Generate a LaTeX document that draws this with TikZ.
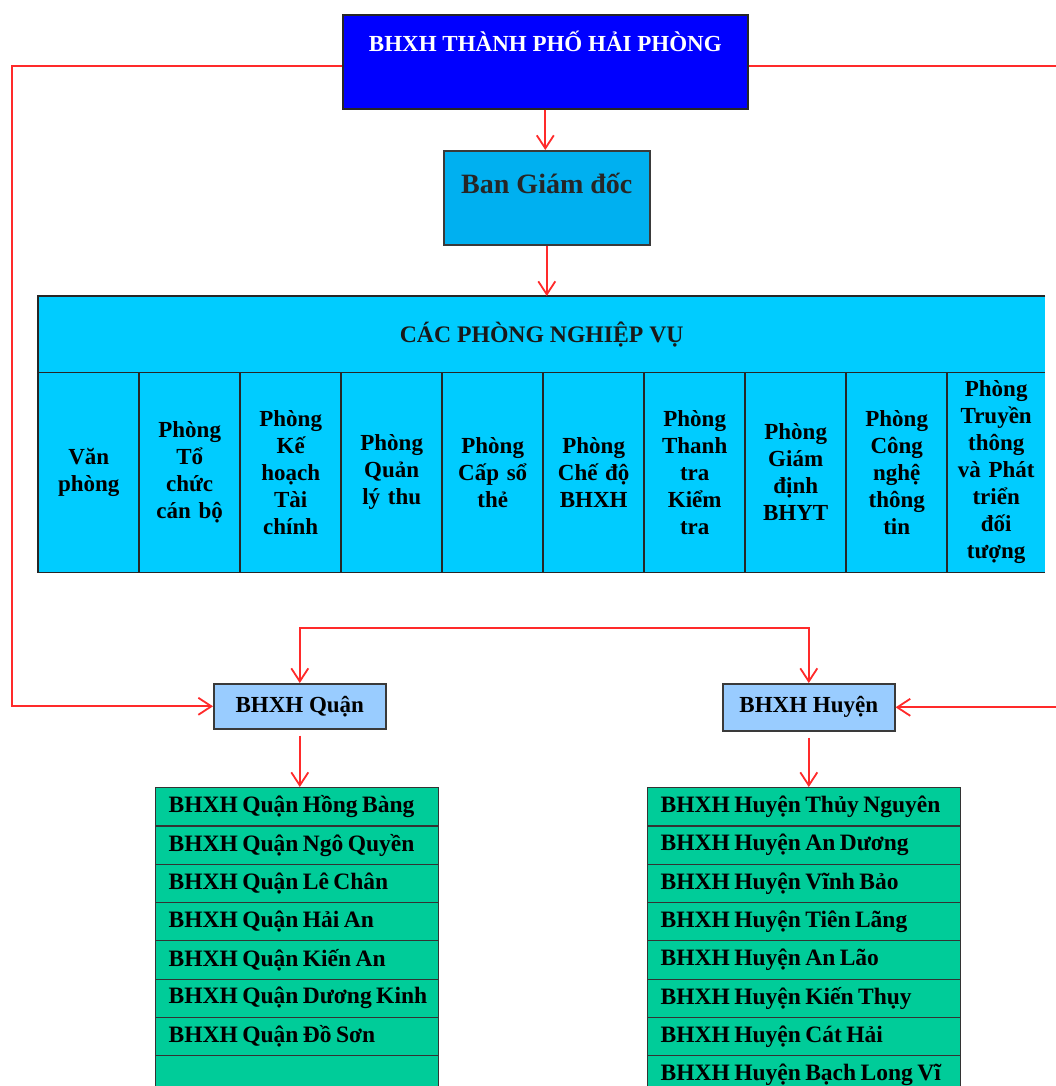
\documentclass[tikz,border=0pt]{standalone}
\usepackage{fontspec}
\setmainfont{Liberation Serif}
\usetikzlibrary{arrows.meta}
\definecolor{topblue}{HTML}{0000FF}
\definecolor{bgdblue}{HTML}{00B0F0}
\definecolor{tblcyan}{HTML}{00CCFF}
\definecolor{unitblue}{HTML}{99CCFF}
\definecolor{listgreen}{HTML}{00CC99}
\definecolor{conred}{HTML}{FF2A2A}
\definecolor{edgegray}{HTML}{3A3A3A}
\newcommand\myrowfont{\fontsize{23.5}{26}\selectfont\bfseries\spaceskip=0.19em\relax}
\tikzset{
  conn/.style={draw=conred, line width=1.8pt},
  arr/.style={conn, -{Straight Barb[length=13pt,width=17pt,line width=1.8pt]}},
  bigbox/.style={rectangle, inner sep=0pt, anchor=north west, line width=1.6pt},
  colcell/.style={rectangle, fill=tblcyan, inner sep=0pt, anchor=north west,
    minimum width=101pt, minimum height=200pt, text width=99pt, align=center,
    font=\fontsize{23}{27}\selectfont\bfseries},
  unitbox/.style={rectangle, fill=unitblue, draw=edgegray, line width=1.6pt,
    inner sep=0pt, anchor=north west, font=\fontsize{23}{26}\selectfont\bfseries},
  rowcell/.style={rectangle, fill=listgreen, draw=black!80, line width=1.2pt,
    inner sep=0pt, anchor=north west, minimum height=38.3pt, align=left},
}
\begin{document}
\begin{tikzpicture}[x=1pt,y=-1pt]
\useasboundingbox (0,0) rectangle (1056,1086);
\clip (0,0) rectangle (1056,1086);
\fill[white] (0,0) rectangle (1056,1086);

% top box
\node[bigbox, fill=topblue, draw=black!85, minimum width=405pt, minimum height=94pt,
  label={[anchor=north, yshift=-13pt, text=white, font=\fontsize{23}{26}\selectfont\bfseries]north:BHXH THÀNH PHỐ HẢI PHÒNG}]
  (top) at (342,14) {};

% Ban Giam doc
\node[bigbox, fill=bgdblue, draw=edgegray, minimum width=206pt, minimum height=94pt,
  label={[anchor=north, yshift=-20pt, text=black!85, font=\fontsize{28}{32}\selectfont\bfseries]north:Ban Giám đốc}]
  (bgd) at (443,150) {};

% table
\node[rectangle, fill=tblcyan, inner sep=0pt, anchor=north west, minimum width=1007pt,
  minimum height=76pt, font=\fontsize{23.7}{27}\selectfont\bfseries, text=black!90]
  (hdr) at (38,296) {CÁC PHÒNG NGHIỆP VỤ};
\node[colcell] (c1) at (38,372) {Văn\\phòng};
\node[colcell] (c2) at (139,372) {Phòng\\Tổ\\chức\\cán bộ};
\node[colcell] (c3) at (240,372) {Phòng\\Kế\\hoạch\\Tài\\chính};
\node[colcell] (c4) at (341,372) {Phòng\\Quản\\lý thu};
\node[colcell] (c5) at (442,372) {Phòng\\Cấp sổ\\thẻ};
\node[colcell] (c6) at (543,372) {Phòng\\Chế độ\\BHXH};
\node[colcell] (c7) at (644,372) {Phòng\\Thanh\\tra\\Kiểm\\tra};
\node[colcell] (c8) at (745,372) {Phòng\\Giám\\định\\BHYT};
\node[colcell] (c9) at (846,372) {Phòng\\Công\\nghệ\\thông\\tin};
\node[colcell, text width=96pt, minimum width=98pt] (c10) at (947,372) {Phòng\\Truyền\\thông\\và Phát\\triển\\đối\\tượng};
% table lines
\draw[black!85, line width=1.5pt] (hdr.north east) -- (hdr.north west) -- (c1.south west) -- (c10.south east);
\draw[black!85, line width=1.3pt] (hdr.south west) -- (hdr.south east);
\foreach \i in {2,...,10} {
  \draw[black!85, line width=1.1pt] (c\i.north west) -- (c\i.south west);
}

% units
\node[unitbox, minimum width=172pt, minimum height=45pt] (quan) at (213,683) {BHXH Quận};
\node[unitbox, minimum width=172pt, minimum height=47pt] (huyen) at (722,683) {BHXH Huyện};

% lists
\foreach \t [count=\i] in {BHXH Quận Hồng Bàng, BHXH Quận Ngô Quyền, BHXH Quận Lê Chân,
  BHXH Quận Hải An, BHXH Quận Kiến\ An, BHXH Quận Dương Kinh, BHXH Quận Đồ Sơn, {}} {
  \node[rowcell, minimum width=283pt, text width=270pt] (q\i) at (155,{787+38.3*(\i-1)}) {\myrowfont\hspace*{6.5pt}\t};
}
\foreach \t [count=\i] in {BHXH Huyện Thủy Nguyên, BHXH Huyện An Dương, BHXH Huyện Vĩnh Bảo,
  BHXH Huyện Tiên Lãng, BHXH Huyện An Lão, BHXH Huyện Kiến\ Thụy, BHXH Huyện Cát Hải,
  BHXH Huyện Bạch Long Vĩ} {
  \node[rowcell, minimum width=313pt, text width=300pt] (h\i) at (647,{787+38.3*(\i-1)}) {\myrowfont\hspace*{6.5pt}\t};
}

% connectors
\draw[arr] (top.south) -- (top.south |- bgd.north);
\draw[arr] (bgd.south) -- (bgd.south |- hdr.north);
\coordinate (lc) at (12,400);
\coordinate (rc) at (1070,400);
\draw[arr] ([yshift=-4pt]top.west) -| (lc) |- (quan.west);
\draw[arr] ([yshift=-4pt]top.east) -| (rc) |- (huyen.east);
\coordinate (bar) at (553,628);
\draw[conn, {Straight Barb[length=13pt,width=17pt,line width=1.8pt]}-{Straight Barb[length=13pt,width=17pt,line width=1.8pt]}]
  (quan.north) |- (bar) -| (huyen.north);
\draw[arr, shorten <=6pt] (quan.south) -- (quan.south |- q1.north);
\draw[arr, shorten <=6pt] (huyen.south) -- (huyen.south |- h1.north);
\end{tikzpicture}
\end{document}
